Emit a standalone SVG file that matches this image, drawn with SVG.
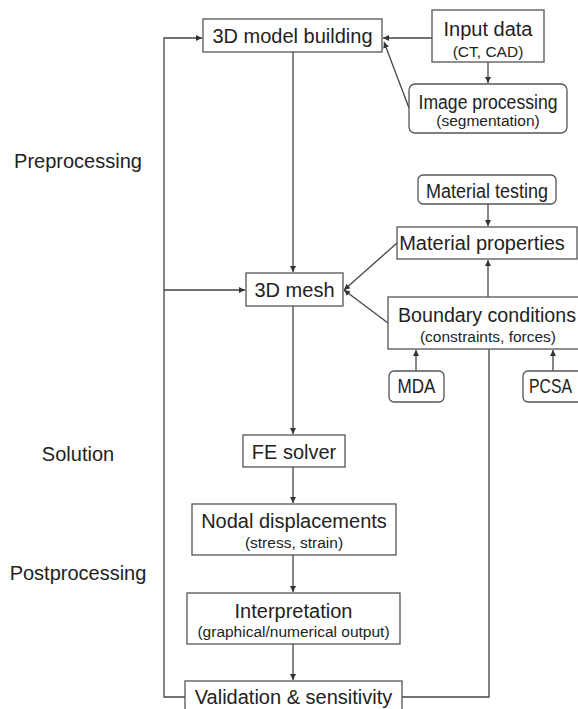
<svg xmlns="http://www.w3.org/2000/svg" width="578" height="709" viewBox="0 0 578 709">
<defs>
<marker id="ah" markerWidth="8" markerHeight="8" refX="6" refY="3" orient="auto" markerUnits="userSpaceOnUse" viewBox="0 0 8 6">
<path d="M0,0 L6,3 L0,6 Z" fill="#333"/>
</marker>
<style>
.box{fill:#fff;stroke:#555;stroke-width:1.3}
.t{font-family:"Liberation Sans",Arial,sans-serif;font-size:20px;fill:#222;text-anchor:middle}
.s{font-family:"Liberation Sans",Arial,sans-serif;font-size:15.5px;fill:#222;text-anchor:middle}
.lab{font-family:"Liberation Sans",Arial,sans-serif;font-size:20px;fill:#222;text-anchor:middle}
.c{fill:none;stroke:#444;stroke-width:1.3}
.a{marker-end:url(#ah)}
</style>
</defs>
<rect width="578" height="709" fill="#fff"/>
<g id="labels">
<text class="lab" x="78" y="168">Preprocessing</text>
<text class="lab" x="78" y="461">Solution</text>
<text class="lab" x="78" y="580">Postprocessing</text>
</g>
<g id="connectors">
<polyline class="c a" points="185,697 164,697 164,38 202,38"/>
<line class="c a" x1="164" y1="290" x2="245" y2="290"/>
<line class="c a" x1="293" y1="52" x2="293" y2="272"/>
<line class="c a" x1="432" y1="38" x2="383" y2="38"/>
<line class="c a" x1="488" y1="62" x2="488" y2="83"/>
<line class="c a" x1="409" y1="108" x2="384" y2="42"/>
<line class="c a" x1="488" y1="204" x2="488" y2="226"/>
<line class="c a" x1="488" y1="297" x2="488" y2="260"/>
<line class="c a" x1="397" y1="243" x2="344" y2="290"/>
<line class="c a" x1="388" y1="323" x2="344" y2="290"/>
<line class="c a" x1="293" y1="306" x2="293" y2="434"/>
<line class="c a" x1="293" y1="467" x2="293" y2="503"/>
<line class="c a" x1="293" y1="555" x2="293" y2="592"/>
<line class="c a" x1="293" y1="644" x2="293" y2="680"/>
<polyline class="c" points="402,697 489,697 489,349"/>
<line class="c a" x1="416" y1="371" x2="416" y2="350"/>
<line class="c a" x1="553" y1="371" x2="553" y2="350"/>
</g>
<g id="model">
<rect class="box" x="203" y="19" width="179" height="33"/>
<text class="t" x="292.5" y="42.5">3D model building</text>
</g>
<g id="input">
<rect class="box" x="432" y="10" width="112" height="52"/>
<text class="t" x="488" y="36">Input data</text>
<text class="s" x="488" y="57">(CT, CAD)</text>
</g>
<g id="imgproc">
<rect class="box" x="409" y="84" width="158" height="49" rx="6"/>
<text class="t" x="488" y="109" textLength="139" lengthAdjust="spacingAndGlyphs">Image processing</text>
<text class="s" x="488" y="126">(segmentation)</text>
</g>
<g id="mattest">
<rect class="box" x="418" y="175" width="138" height="29" rx="5"/>
<text class="t" x="487" y="198" textLength="122" lengthAdjust="spacingAndGlyphs">Material testing</text>
</g>
<g id="matprop">
<rect class="box" x="397" y="227" width="180" height="32"/>
<text class="t" x="482" y="250">Material properties</text>
</g>
<g id="mesh">
<rect class="box" x="246" y="273" width="97" height="33"/>
<text class="t" x="294.5" y="297">3D mesh</text>
</g>
<g id="boundary">
<rect class="box" x="388" y="297" width="200" height="52"/>
<text class="t" x="487" y="322" textLength="178" lengthAdjust="spacingAndGlyphs">Boundary conditions</text>
<text class="s" x="488" y="342">(constraints, forces)</text>
</g>
<g id="mda">
<rect class="box" x="389" y="371" width="55" height="31" rx="5"/>
<text class="t" x="416.5" y="393" textLength="38" lengthAdjust="spacingAndGlyphs">MDA</text>
</g>
<g id="pcsa">
<rect class="box" x="523" y="371" width="67" height="31" rx="5"/>
<text class="t" x="529" y="393" style="text-anchor:start" textLength="43" lengthAdjust="spacingAndGlyphs">PCSA</text>
</g>
<g id="fe">
<rect class="box" x="243" y="435" width="102" height="32"/>
<text class="t" x="294" y="459">FE solver</text>
</g>
<g id="nodal">
<rect class="box" x="192" y="504" width="204" height="51"/>
<text class="t" x="294" y="528">Nodal displacements</text>
<text class="s" x="294" y="548">(stress, strain)</text>
</g>
<g id="interp">
<rect class="box" x="187" y="593" width="213" height="51"/>
<text class="t" x="293.5" y="618">Interpretation</text>
<text class="s" x="293.5" y="637">(graphical/numerical output)</text>
</g>
<g id="valid">
<rect class="box" x="185" y="681" width="217" height="40"/>
<text class="t" x="293.5" y="704">Validation &amp; sensitivity</text>
</g>
</svg>
